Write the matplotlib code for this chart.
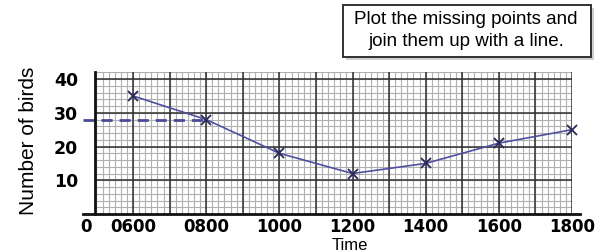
import matplotlib
matplotlib.use("Agg")
import matplotlib.pyplot as plt
import numpy as np
from matplotlib.patches import Rectangle

times = [6, 8, 10, 12, 14, 16, 18]
birds = [35, 28, 18, 12, 15, 21, 25]
xtick_labels = ["0600", "0800", "1000", "1200", "1400", "1600", "1800"]
yticks = [10, 20, 30, 40]
read_value = 28

W, H = 600, 252
fig = plt.figure(figsize=(6, 2.52), dpi=100)
fig.patch.set_facecolor("white")

def fx(px):
    return px / W

def fy(py):
    return 1 - py / H

left_px, right_px, top_px, bot_px = 95, 572, 72, 214
ax = fig.add_axes([fx(left_px), fy(bot_px), fx(right_px - left_px), (bot_px - top_px) / H])
ax.set_xlim(4.96, 18)
ax.set_ylim(0, 42.1)

# grid
for v in np.arange(5, 18.001, 1 / 6):
    ax.axvline(v, color="#b0b0b0", lw=0.8, zorder=1)
for v in np.arange(0, 42.1, 2):
    ax.axhline(v, color="#b0b0b0", lw=0.8, zorder=1)
for v in np.arange(6, 18.001, 1):
    ax.axvline(v, color="#303030", lw=1.1, zorder=2)
for v in [10, 20, 30, 40]:
    ax.axhline(v, color="#303030", lw=1.1, zorder=2)

for s in ax.spines.values():
    s.set_visible(False)
ax.tick_params(length=0)
ax.set_xticks(times)
ax.set_xticklabels(xtick_labels, fontsize=12, fontweight="bold", family="DejaVu Sans")
ax.set_yticks(yticks)
ax.set_yticklabels([str(t) for t in yticks], fontsize=12.5, fontweight="bold", family="DejaVu Sans")
ax.tick_params(axis="x", pad=3)
ax.tick_params(axis="y", pad=12)

# axes lines
ax.plot([0, 0], [0, 1], transform=ax.transAxes, color="#111111", lw=2, clip_on=False, zorder=5)
ax.plot([-0.025, 1.017], [0, 0], transform=ax.transAxes, color="#111111", lw=2, clip_on=False, zorder=5)

# dashed reading line
trans = matplotlib.transforms.blended_transform_factory(ax.transAxes, ax.transData)
x_end_ax = (8 - 4.96) / (18 - 4.96)
ax.plot([-0.025, x_end_ax], [read_value, read_value], transform=trans, color="#4a4a96",
        lw=2, ls=(0, (4, 2.5)), clip_on=False, zorder=4)

# data line
ax.plot(times, birds, color="#5050a0", lw=1.2, zorder=6, clip_on=False)
ax.plot(times, birds, ls="none", marker="x", ms=7, mew=1.3, color="#28285a", zorder=7, clip_on=False)

fig.text(fx(86), fy(227), "0", fontsize=12, fontweight="bold", ha="center", va="center", family="DejaVu Sans")
fig.text(fx(350), fy(245), "Time", fontsize=12, ha="center", va="center", family="Liberation Sans")
fig.text(fx(29), fy(141), "Number of birds", fontsize=15, rotation=90, ha="center", va="center",
         family="Liberation Sans")

# box with shadow
bx0, bx1, by0, by1 = 343, 591, 5, 57
fig.patches.append(Rectangle((fx(bx0 + 3), fy(by1 + 3)), fx(bx1 - bx0), (by1 - by0) / H,
                             transform=fig.transFigure, facecolor="#a0a0a0", edgecolor="none",
                             alpha=0.5, zorder=1))
fig.patches.append(Rectangle((fx(bx0), fy(by1)), fx(bx1 - bx0), (by1 - by0) / H,
                             transform=fig.transFigure, facecolor="white", edgecolor="#222222",
                             lw=1.3, zorder=2))
fig.text(fx(466), fy(20), "Plot the missing points and", fontsize=13.5, ha="center", va="center",
         family="Liberation Sans", zorder=3)
fig.text(fx(466), fy(42), "join them up with a line.", fontsize=13.5, ha="center", va="center",
         family="Liberation Sans", zorder=3)

fig.savefig("out.png", dpi=100, facecolor="white")
